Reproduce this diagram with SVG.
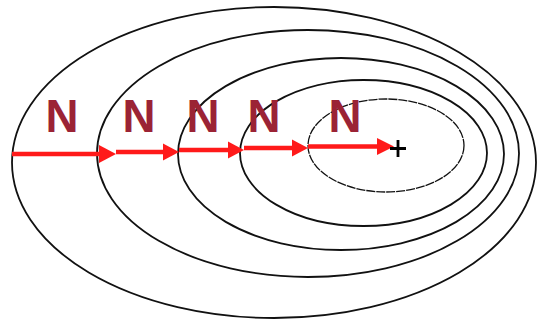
<svg xmlns="http://www.w3.org/2000/svg" width="537" height="321" viewBox="0 0 537 321">
<style>
.ring{fill:none;stroke:#111;stroke-width:1.8}
.inner{fill:none;stroke:#111;stroke-width:1.3;stroke-dasharray:9 1}
.lbl{font-family:"Liberation Sans",Arial,sans-serif;font-weight:bold;font-size:47px;fill:#9b2335;text-anchor:middle}
.arr{stroke:#ff1a1a;stroke-width:4.5;fill:none}
.head{fill:#ff1a1a}
</style>
<rect width="537" height="321" fill="#fff"/>
<g id="rings">
<g id="ring1"><ellipse class="ring" cx="274" cy="162.5" rx="262" ry="155.5" stroke-width="2.2"/></g>
<g id="ring2"><ellipse class="ring" cx="308" cy="153.5" rx="211" ry="123.5"/></g>
<g id="ring3"><ellipse class="ring" cx="341" cy="154" rx="163" ry="96"/></g>
<g id="ring4"><ellipse class="ring" cx="363.5" cy="153" rx="123.5" ry="73"/></g>
<g id="ring5"><ellipse class="inner" cx="386" cy="145.5" rx="78" ry="46.5"/></g>
</g>
<g id="labels">
<text class="lbl" x="62" y="132" textLength="33" lengthAdjust="spacingAndGlyphs">N</text>
<text class="lbl" x="139" y="132" textLength="33" lengthAdjust="spacingAndGlyphs">N</text>
<text class="lbl" x="203" y="132" textLength="33" lengthAdjust="spacingAndGlyphs">N</text>
<text class="lbl" x="264" y="132" textLength="33" lengthAdjust="spacingAndGlyphs">N</text>
<text class="lbl" x="345" y="132" textLength="33" lengthAdjust="spacingAndGlyphs">N</text>
</g>
<g id="connectors">
<line class="arr" x1="12" y1="154" x2="102" y2="154"/>
<polygon class="head" points="99,145 116,154 99,163"/>
<line class="arr" x1="116" y1="152" x2="166" y2="152"/>
<polygon class="head" points="163,143.5 179,152 163,160.5"/>
<line class="arr" x1="179" y1="150" x2="231" y2="150"/>
<polygon class="head" points="228,141.5 244,150 228,158.5"/>
<line class="arr" x1="244" y1="148" x2="295" y2="148"/>
<polygon class="head" points="292,139.5 308,148 292,156.5"/>
<line class="arr" x1="308" y1="146.5" x2="381" y2="146.5"/>
<polygon class="head" points="377,138 394,146.5 377,155"/>
</g>
<g id="target">
<path d="M390 148.5 H406 M398 140 V157" stroke="#000" stroke-width="2.8" fill="none"/>
</g>
</svg>
